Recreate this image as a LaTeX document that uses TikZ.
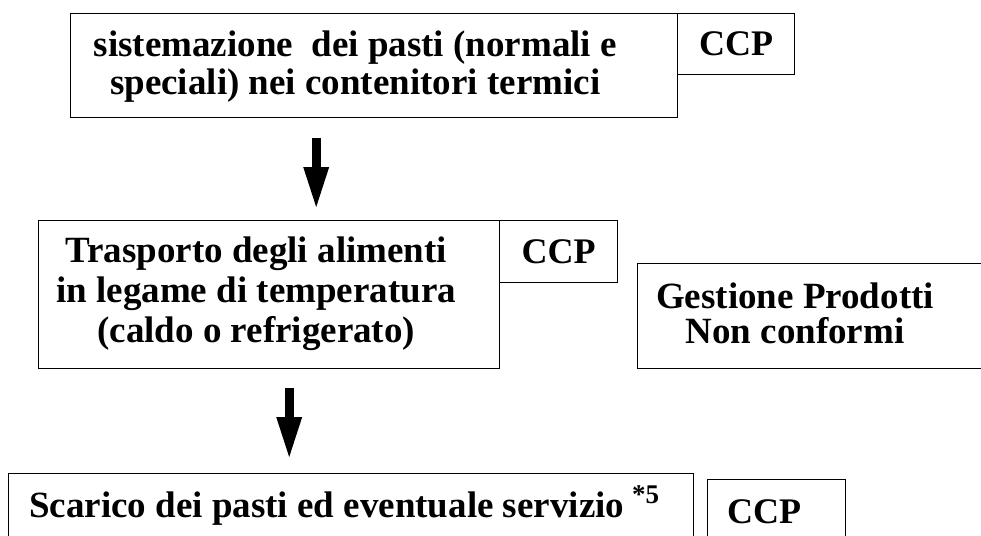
\documentclass[tikz,border=0pt]{standalone}
\usepackage{fontspec}
\setmainfont{Liberation Serif}
\usetikzlibrary{arrows.meta,calc}
\tikzset{>={Triangle[width=26pt,length=40pt,line width=0pt]}}
\tikzset{stage/.style={draw, rectangle, line width=1.4pt, inner sep=0pt, anchor=north west},
  txt/.style={align=center, inner sep=0pt, font=\bfseries\fontsize{37}{40}\selectfont},
  flow/.style={->, line width=9pt}}

\begin{document}
\begin{tikzpicture}[x=1pt, y=-1pt]
    \useasboundingbox (0,0) rectangle (981,535);
    % boxes
    \node [stage, minimum width=607pt, minimum height=104pt] (sist) at (70,13) {};
    \node [stage, minimum width=117pt, minimum height=61pt] (ccpa) at (677,13) {};
    \node [stage, minimum width=461pt, minimum height=148pt] (trasp) at (38,220) {};
    \node [stage, minimum width=118pt, minimum height=62pt] (ccpb) at (499,220) {};
    \node [stage, minimum width=360pt, minimum height=105pt] (gest) at (637,263) {};
    \node [stage, minimum width=685pt, minimum height=100pt] (scar) at (8,473) {};
    \node [stage, minimum width=138pt, minimum height=100pt] (ccpc) at (707,479) {};
    % texts (base = last line)
    \node at (sist.north) [txt, xshift=-19pt, yshift=-81pt, anchor=base, font=\bfseries\fontsize{37}{38}\selectfont] {sistemazione\ \ dei pasti (normali e\\speciali) nei contenitori termici};
    \node at (ccpa.center) [txt, font=\bfseries\fontsize{36}{40}\selectfont] {CCP};
    \node at (trasp.north) [txt, xshift=-13pt, yshift=-122pt, anchor=base] {Trasporto degli alimenti\\in legame di temperatura\\(caldo o refrigerato)};
    \node at (ccpb.center) [txt, font=\bfseries\fontsize{36}{40}\selectfont] {CCP};
    \node at (gest.north west) [txt, xshift=158pt, yshift=-80pt, anchor=base, font=\bfseries\fontsize{37}{35}\selectfont] {Gestione Prodotti\\Non conformi};
    \node at (scar.north west) [txt, xshift=21pt, yshift=-44pt, anchor=base west] {Scarico dei pasti ed eventuale servizio\hspace{8pt}\raisebox{14pt}{\fontsize{27}{27}\selectfont *5}};
    \node at (ccpc.north west) [txt, xshift=20pt, yshift=-44pt, anchor=base west, font=\bfseries\fontsize{36}{40}\selectfont] {CCP};
    % arrows
    \draw [flow] ([xshift=-58pt, yshift=-20pt]sist.south) -- ([xshift=47pt, yshift=13pt]trasp.north);
    \draw [flow] ([xshift=20pt, yshift=-19pt]trasp.south) -- ([xshift=-62pt, yshift=16pt]scar.north);
  \end{tikzpicture}
\end{document}
